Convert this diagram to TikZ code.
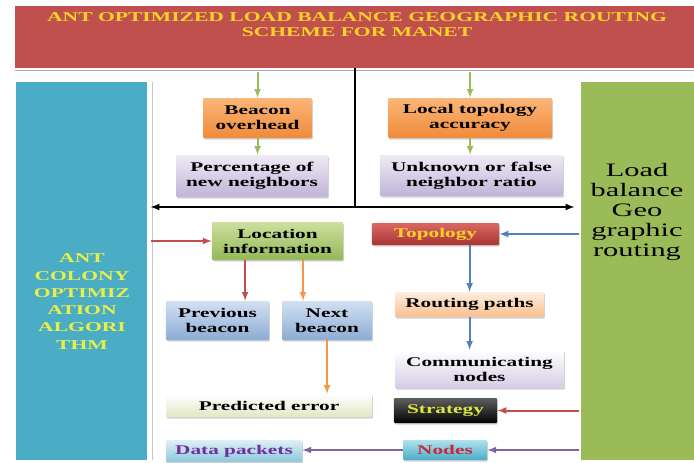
\documentclass[tikz,border=0pt]{standalone}
\usepackage{fontspec}
\setmainfont{Liberation Serif}
\usetikzlibrary{arrows,shapes,positioning,shadows}

\definecolor{titlered}{RGB}{192,80,77}
\definecolor{titlegold}{RGB}{250,210,40}
\definecolor{antblue}{RGB}{75,172,198}
\definecolor{antyellow}{RGB}{232,240,72}
\definecolor{lbgreen}{RGB}{155,187,89}
\definecolor{arrgreen}{RGB}{155,187,89}
\definecolor{arrred}{RGB}{192,80,77}
\definecolor{arrorange}{RGB}{247,150,70}
\definecolor{arrblue}{RGB}{79,129,189}
\definecolor{arrpurple}{RGB}{128,100,162}

\tikzstyle{box} = [
  rectangle, inner sep=0pt, align=center, rounded corners=1pt,
  font=\fontsize{13.3}{15}\selectfont\bfseries,
  drop shadow={shadow xshift=0.8pt, shadow yshift=-1.5pt, opacity=0.35}
]
\tikzstyle{orangebox} = [box, top color={rgb,255:red,251;green,182;blue,120}, bottom color={rgb,255:red,240;green,138;blue,58}]
\tikzstyle{lilacbox} = [box, top color={rgb,255:red,238;green,234;blue,246}, bottom color={rgb,255:red,192;green,180;blue,216}]
\tikzstyle{greenbox} = [box, top color={rgb,255:red,205;green,224;blue,158}, bottom color={rgb,255:red,148;green,184;blue,88}]
\tikzstyle{bluebox} = [box, top color={rgb,255:red,210;green,224;blue,242}, bottom color={rgb,255:red,140;green,172;blue,212}]
\tikzstyle{paleboxg} = [box, top color=white, bottom color={rgb,255:red,224;green,232;blue,196}]
\tikzstyle{peachbox} = [box, top color={rgb,255:red,254;green,238;blue,224}, bottom color={rgb,255:red,250;green,190;blue,140}]
\tikzstyle{paleboxl} = [box, top color=white, bottom color={rgb,255:red,214;green,204;blue,230}]
\tikzstyle{redbox} = [box, top color={rgb,255:red,218;green,104;blue,98}, bottom color={rgb,255:red,168;green,52;blue,52}, text=titlegold]
\tikzstyle{blackbox} = [box, top color={rgb,255:red,95;green,95;blue,95}, bottom color=black, text={rgb,255:red,222;green,232;blue,60}]
\tikzstyle{cyanbox} = [box, top color={rgb,255:red,175;green,226;blue,236}, bottom color={rgb,255:red,75;green,172;blue,198}, text={rgb,255:red,200;green,40;blue,62}]
\tikzstyle{tealbox} = [box, top color={rgb,255:red,222;green,240;blue,246}, bottom color={rgb,255:red,140;green,200;blue,220}, text={rgb,255:red,112;green,48;blue,160}]
\tikzstyle{panel} = [rectangle, inner sep=0pt]
\tikzstyle{conn} = [-latex, line width=2pt]

\begin{document}
\begin{tikzpicture}[x=0.625pt, y=-1pt, xscale=1.6, transform shape]
  \useasboundingbox[fill=white] (0,0) rectangle (694,463);

  % frame: title and the two side panels
  \node[panel, fill=titlered, minimum width=424.4pt, minimum height=62pt] (title) at (354.5,37) {};
  \node[align=center, text=titlegold, font=\fontsize{13.5}{15}\selectfont\bfseries] (titlelabel) at (357,25)
    {ANT OPTIMIZED LOAD BALANCE GEOGRAPHIC ROUTING\\SCHEME FOR MANET};
  \draw[gray!70, line width=1.2pt] ([yshift=-2.5pt]title.south west) -- ([yshift=-2.5pt]title.south east);
  \node[panel, fill=antblue, minimum width=81.9pt, minimum height=378pt] (ant) at (81.5,271) {};
  \draw[blue!15!gray!40, line width=1pt] ([xshift=3pt]ant.north east) -- ([xshift=3pt]ant.south east);
  \node[align=center, text=antyellow, font=\fontsize{13.5}{17.3}\selectfont\bfseries] (antlabel) at (82,301.5)
    {ANT\\COLONY\\OPTIMIZ\\ATION\\ALGORI\\THM};
  \node[panel, fill=lbgreen, minimum width=70.6pt, minimum height=378pt] (lbgr) at (637.5,271) {};
  \node[align=center, font=\fontsize{19}{20}\selectfont] (lbgrlabel) at (637,212)
    {Load\\balance\\Geo\\graphic\\routing};

  % upper half
  \node[orangebox, minimum width=68.1pt, minimum height=40pt] (beacon) at (257.5,118) {Beacon\\overhead};
  \node[lilacbox, minimum width=95pt, minimum height=42pt] (percent) at (252,176) {Percentage of\\new neighbors};
  \node[orangebox, minimum width=102.5pt, minimum height=40pt] (local) at (470,118) {Local topology\\accuracy};
  \node[lilacbox, minimum width=114.4pt, minimum height=41pt] (unknown) at (471.5,175.5) {Unknown or false\\neighbor ratio};
  \coordinate (split) at (355,207);

  % lower half
  \node[greenbox, minimum width=81.9pt, minimum height=38pt] (locinfo) at (277.5,241) {Location\\information};
  \node[redbox, minimum width=79.4pt, minimum height=22pt] (topology) at (435.5,234) {Topology};
  \node[bluebox, minimum width=64.4pt, minimum height=39pt] (prev) at (217.5,320.5) {Previous\\beacon};
  \node[bluebox, minimum width=56.25pt, minimum height=39pt] (next) at (327,320.5) {Next\\beacon};
  \node[paleboxg, minimum width=128.75pt, minimum height=23pt] (predicted) at (269,405.5) {Predicted error};
  \node[peachbox, minimum width=93.1pt, minimum height=25pt] (routing) at (469.5,304.5) {Routing paths};
  \node[paleboxl, minimum width=105.6pt, minimum height=38pt] (comm) at (479.5,369) {Communicating\\nodes};
  \node[blackbox, minimum width=64.4pt, minimum height=25pt] (strategy) at (445.5,410.5) {Strategy};
  \node[cyanbox, minimum width=52.5pt, minimum height=20pt] (nodes) at (445,450) {Nodes};
  \node[tealbox, minimum width=85pt, minimum height=22pt] (data) at (234,451) {Data packets};

  \draw[conn, arrgreen] ([yshift=-4pt]title.south -| beacon.north) -- (beacon.north);
  \draw[conn, arrgreen] (beacon.south) -- (beacon.south |- percent.north);
  \draw[conn, arrgreen] ([yshift=-4pt]title.south -| local.north) -- (local.north);
  \draw[conn, arrgreen] (local.south) -- (local.south |- unknown.north);
  \draw[line width=2pt] (title.south -| split) -- (split);
  \draw[latex-latex, line width=2pt] ([xshift=2pt]ant.east |- split) -- ([xshift=-4pt]lbgr.west |- split);

  \draw[conn, arrred] ([xshift=2pt]ant.east |- locinfo.west) -- (locinfo.west);
  \draw[conn, arrred] ([xshift=-20.3pt]locinfo.south) -- ([xshift=-20.3pt]locinfo.south |- prev.north);
  \draw[conn, arrorange] ([xshift=15.9pt]locinfo.south) -- ([xshift=15.9pt]locinfo.south |- next.north);
  \draw[conn, arrorange] (next.south) -- (next.south |- predicted.north);
  \draw[conn, arrblue] ([xshift=-1pt]lbgr.west |- topology.east) -- (topology.east);
  \draw[conn, arrblue] (routing.north |- topology.south) -- (routing.north);
  \draw[conn, arrblue] (routing.south) -- (routing.south |- comm.north);
  \draw[conn, arrred] ([xshift=-1pt]lbgr.west |- strategy.east) -- (strategy.east);
  \draw[conn, arrpurple] ([xshift=-1pt]lbgr.west |- nodes.east) -- (nodes.east);
  \draw[conn, arrpurple] (nodes.west) -- (data.east |- nodes.west);
\end{tikzpicture}
\end{document}
